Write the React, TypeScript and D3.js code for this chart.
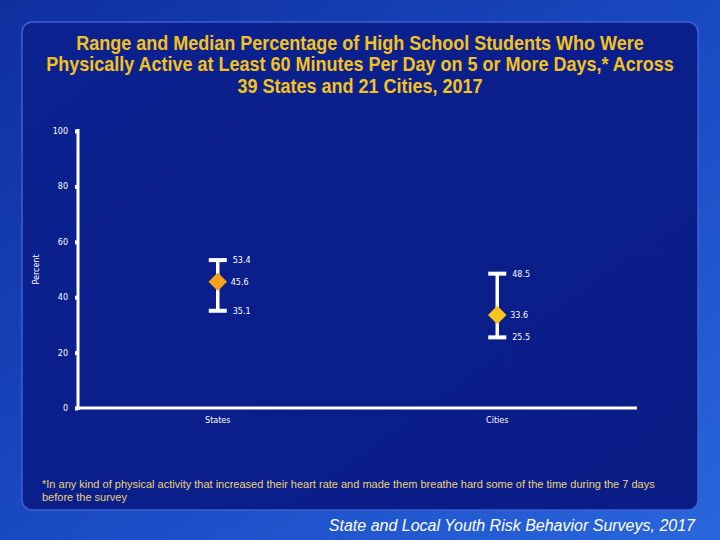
import * as d3 from 'd3';
import React, { useRef, useEffect } from 'react';

const categories = ['States', 'Cities'];
const maxValues = [53.4, 48.5];
const medianValues = [45.6, 33.6];
const minValues = [35.1, 25.5];
const medianColors = ['#F7A21B', '#F9C41D'];
const yTicks = [0, 20, 40, 60, 80, 100];

const titleLines = [
  'Range and Median Percentage of High School Students Who Were',
  'Physically Active at Least 60 Minutes Per Day on 5 or More Days,* Across',
  '39 States and 21 Cities, 2017',
];
const footnoteLines = [
  '*In any kind of physical activity that increased their heart rate and made them breathe hard some of the time during the 7 days',
  'before the survey',
];
const sourceText = 'State and Local Youth Risk Behavior Surveys, 2017';

function App() {
  const svgRef = useRef(null);

  useEffect(() => {
    const width = 720;
    const height = 540;
    const svg = d3.select(svgRef.current);
    svg.selectAll('*').remove();

    /* Background */
    const defs = svg.append('defs');
    const bg = defs
      .append('linearGradient')
      .attr('id', 'bg')
      .attr('x1', '0%')
      .attr('y1', '0%')
      .attr('x2', '100%')
      .attr('y2', '100%');
    bg.append('stop').attr('offset', '0%').attr('stop-color', '#0f2f9e');
    bg.append('stop').attr('offset', '55%').attr('stop-color', '#1a4cc4');
    bg.append('stop').attr('offset', '100%').attr('stop-color', '#2a66dc');

    const panel = defs
      .append('linearGradient')
      .attr('id', 'panel')
      .attr('x1', '0%')
      .attr('y1', '0%')
      .attr('x2', '100%')
      .attr('y2', '100%');
    panel.append('stop').attr('offset', '0%').attr('stop-color', '#0b2290');
    panel.append('stop').attr('offset', '100%').attr('stop-color', '#0a1c86');

    svg.append('rect').attr('width', width).attr('height', height).attr('fill', 'url(#bg)');

    svg
      .append('rect')
      .attr('x', 22)
      .attr('y', 22)
      .attr('width', 676)
      .attr('height', 488)
      .attr('rx', 10)
      .attr('fill', 'url(#panel)')
      .attr('stroke', '#3f5fd2')
      .attr('stroke-width', 1.5);

    /* Title (condensed bold) */
    svg
      .append('g')
      .attr('transform', 'translate(360,0) scale(0.9,1)')
      .selectAll('text')
      .data(titleLines)
      .enter()
      .append('text')
      .attr('x', 0)
      .attr('y', (d, i) => 50 + i * 21.5)
      .attr('text-anchor', 'middle')
      .attr('font-family', '"Liberation Sans", Arial, sans-serif')
      .attr('font-weight', 'bold')
      .attr('font-size', 20)
      .attr('fill', '#F3C21E')
      .text((d) => d);

    /* Scales */
    const xScale = d3.scaleBand().domain(categories).range([78, 637]);
    const yScale = d3.scaleLinear().domain([0, 100]).range([408, 131]);

    /* Axes */
    const yAxis = d3.axisLeft(yScale).tickValues(yTicks).tickSize(4).tickPadding(6);
    const gy = svg.append('g').attr('transform', 'translate(78,0)').call(yAxis);
    gy.select('.domain').remove();
    gy.selectAll('line').attr('stroke', '#ffffff').attr('stroke-width', 4).attr('x2', -3);
    gy.selectAll('text')
      .attr('fill', '#ffffff')
      .attr('font-family', 'Verdana, "DejaVu Sans", sans-serif')
      .attr('font-size', 8);

    svg
      .append('line')
      .attr('x1', 78)
      .attr('x2', 78)
      .attr('y1', yScale(100) - 2)
      .attr('y2', yScale(0) + 2)
      .attr('stroke', '#ffffff')
      .attr('stroke-width', 3);

    svg
      .append('line')
      .attr('x1', 76.5)
      .attr('x2', 637)
      .attr('y1', yScale(0))
      .attr('y2', yScale(0))
      .attr('stroke', '#ffffff')
      .attr('stroke-width', 3);

    svg
      .append('g')
      .selectAll('text')
      .data(categories)
      .enter()
      .append('text')
      .attr('x', (d) => xScale(d) + xScale.bandwidth() / 2)
      .attr('y', yScale(0) + 15)
      .attr('text-anchor', 'middle')
      .attr('font-family', 'Verdana, "DejaVu Sans", sans-serif')
      .attr('font-size', 8)
      .attr('fill', '#ffffff')
      .text((d) => d);

    svg
      .append('text')
      .attr('transform', `translate(39, ${yScale(50)}) rotate(-90)`)
      .attr('text-anchor', 'middle')
      .attr('font-family', 'Verdana, "DejaVu Sans", sans-serif')
      .attr('font-size', 8)
      .attr('fill', '#ffffff')
      .text('Percent');

    /* Range bars */
    const rows = categories.map((c, i) => ({
      cat: c,
      max: maxValues[i],
      med: medianValues[i],
      min: minValues[i],
      color: medianColors[i],
    }));

    const groups = svg
      .append('g')
      .selectAll('g')
      .data(rows)
      .enter()
      .append('g')
      .attr('transform', (d) => `translate(${xScale(d.cat) + xScale.bandwidth() / 2},0)`);

    groups
      .append('line')
      .attr('x1', 0)
      .attr('x2', 0)
      .attr('y1', (d) => yScale(d.max))
      .attr('y2', (d) => yScale(d.min))
      .attr('stroke', '#ffffff')
      .attr('stroke-width', 3.5);

    ['max', 'min'].forEach((k) => {
      groups
        .append('line')
        .attr('x1', -9)
        .attr('x2', 9)
        .attr('y1', (d) => yScale(d[k]))
        .attr('y2', (d) => yScale(d[k]))
        .attr('stroke', '#ffffff')
        .attr('stroke-width', 4);
    });

    groups
      .append('path')
      .attr('d', d3.symbol().type(d3.symbolSquare).size(170))
      .attr('transform', (d) => `translate(0,${yScale(d.med)}) rotate(45)`)
      .attr('fill', (d) => d.color);

    const labelKeys = [
      { k: 'max', dx: 15 },
      { k: 'med', dx: 13 },
      { k: 'min', dx: 15 },
    ];
    labelKeys.forEach(({ k, dx }) => {
      groups
        .append('text')
        .attr('x', dx)
        .attr('y', (d) => yScale(d[k]) + 3)
        .attr('font-family', 'Verdana, "DejaVu Sans", sans-serif')
        .attr('font-size', 8)
        .attr('fill', '#ffffff')
        .text((d) => d[k].toFixed(1));
    });

    /* Footnote */
    svg
      .append('g')
      .selectAll('text')
      .data(footnoteLines)
      .enter()
      .append('text')
      .attr('x', 42)
      .attr('y', (d, i) => 488 + i * 13)
      .attr('font-family', '"Liberation Sans", Arial, sans-serif')
      .attr('font-size', 11)
      .attr('fill', '#E9D27A')
      .text((d) => d);

    /* Source */
    svg
      .append('text')
      .attr('x', 695)
      .attr('y', 531)
      .attr('text-anchor', 'end')
      .attr('font-family', '"Liberation Sans", Arial, sans-serif')
      .attr('font-style', 'italic')
      .attr('font-size', 16)
      .attr('fill', '#ffffff')
      .text(sourceText);
  }, []);

  return (
    <svg
      ref={svgRef}
      width={720}
      height={540}
      style={{ position: 'absolute', left: 0, top: 0, display: 'block' }}
    ></svg>
  );
}

export default App;
